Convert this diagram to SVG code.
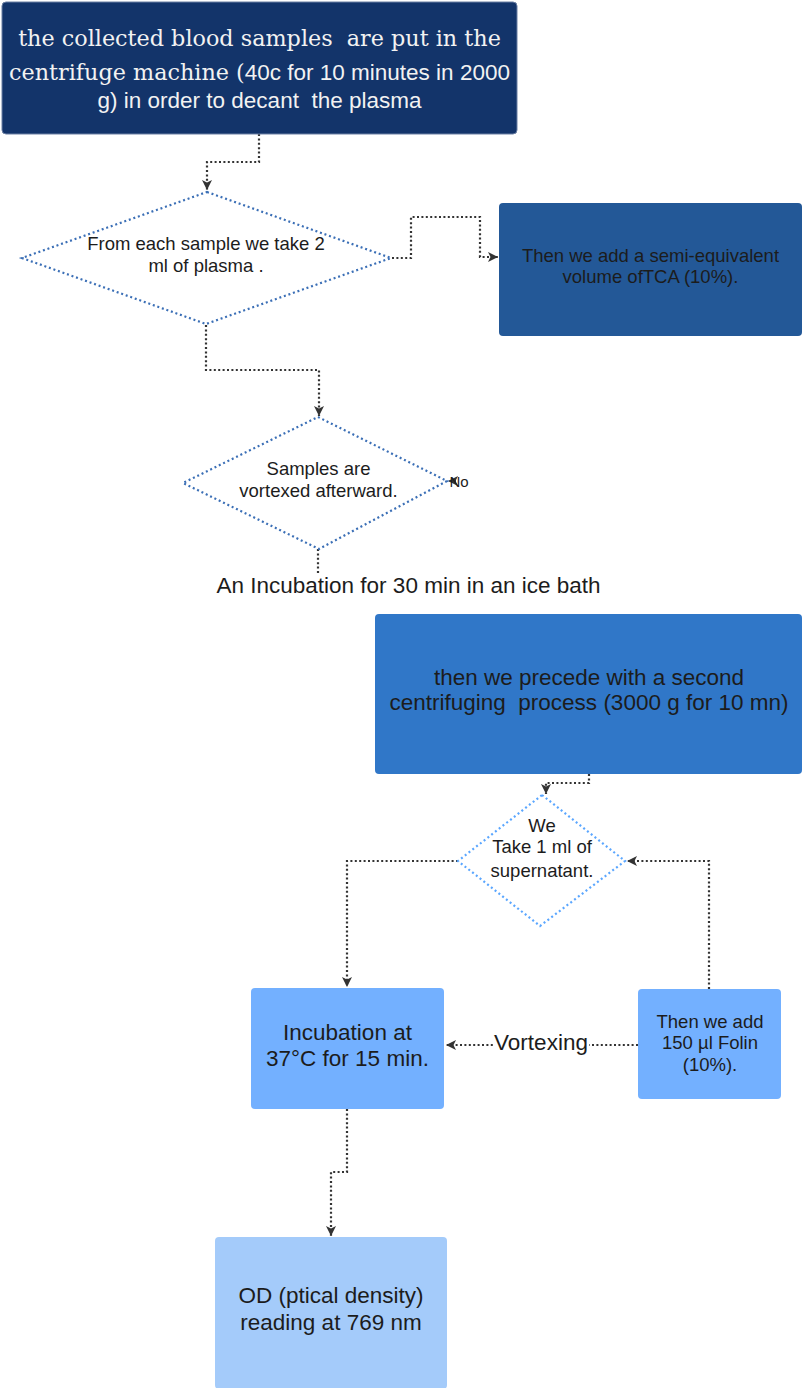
<svg xmlns="http://www.w3.org/2000/svg" width="803" height="1388" viewBox="0 0 803 1388">
<style>
text{white-space:pre}
.t{font-family:"Liberation Sans",Arial,sans-serif;fill:#1c1c1c;text-anchor:middle}
.s{font-size:18.5px}
.b{font-size:22.5px}
.w{fill:#f2f2f2}
.serif{font-family:"DejaVu Serif","Liberation Serif",serif}
.c{fill:none;stroke:#333;stroke-width:2.2;stroke-dasharray:2 2.4}
.d1{fill:#fff;stroke:#3b6fb6;stroke-width:2.2;stroke-dasharray:2 2.8}
.d2{fill:#fff;stroke:#5aa6ff;stroke-width:2.2;stroke-dasharray:2 2.8}
</style>
<defs>
<marker id="ah" markerUnits="userSpaceOnUse" markerWidth="12" markerHeight="12" refX="10" refY="6" orient="auto">
<path d="M0,1 L10,6 L0,11 L2.5,6 Z" fill="#333"/>
</marker>
</defs>
<rect width="803" height="1388" fill="#fff"/>

<g id="connectors">
<path class="c" d="M259,134 V162 H207 V190" marker-end="url(#ah)"/>
<path class="c" d="M392,258 H411 V217 H480 V257 H498" marker-end="url(#ah)"/>
<path class="c" d="M206,325 V370 H319 V416" marker-end="url(#ah)"/>
<path class="c" d="M318,549 V575"/>
<path class="c" d="M589,774 V783 H546 V794" marker-end="url(#ah)"/>
<path class="c" d="M458,861 H347 V987" marker-end="url(#ah)"/>
<path class="c" d="M709,989 V861 H627" marker-end="url(#ah)"/>
<path class="c" d="M638,1045 H446" marker-end="url(#ah)"/>
<path class="c" d="M347,1109 V1172 H331 V1236" marker-end="url(#ah)"/>
<path class="c" d="M456,481 H448" marker-end="url(#ah)" stroke-dasharray="none"/>
<rect x="494" y="1031" width="95" height="26" fill="#fff"/>
<text class="t b" x="541" y="1050">Vortexing</text>
<text class="t" x="459" y="487" font-size="15">No</text>
</g>

<g id="n1">
<rect x="2" y="2" width="515" height="132" rx="4" fill="#13346a" stroke="#6b7fa3" stroke-width="1"/>
<text class="t w serif" x="259.5" y="46" font-size="22.3">the collected blood samples  are put in the</text>
<text class="t w" x="259.5" y="80" font-size="22.3"><tspan class="serif">centrifuge machine (</tspan><tspan font-size="22.5">40c for 10 minutes in 2000</tspan></text>
<text class="t w b" x="259.5" y="108">g) in order to decant  the plasma</text>
</g>

<g id="n2">
<polygon class="d1" points="207,192 391,258 206,324 22,258"/>
<text class="t s" x="206" y="250">From each sample we take 2</text>
<text class="t s" x="206" y="272">ml of plasma .</text>
</g>

<g id="n3">
<rect x="499" y="203" width="303" height="133" rx="4" fill="#235897"/>
<text class="t s" x="650.5" y="262">Then we add a semi-equivalent</text>
<text class="t s" x="650.5" y="283">volume ofTCA (10%).</text>
</g>

<g id="n4">
<polygon class="d1" points="318,417 447,481 319,549 183,483"/>
<text class="t s" x="318.5" y="475">Samples are</text>
<text class="t s" x="318.5" y="497">vortexed afterward.</text>
</g>

<g id="n5">
<text class="t b" x="408.5" y="593">An Incubation for 30 min in an ice bath</text>
</g>

<g id="n6">
<rect x="375" y="614" width="427" height="160" rx="4" fill="#3077c8"/>
<text class="t b" x="589" y="685">then we precede with a second</text>
<text class="t b" x="589" y="710">centrifuging  process (3000 g for 10 mn)</text>
</g>

<g id="n7">
<polygon class="d2" points="542,795 625,861 540,926 458,861"/>
<text class="t s" x="542" y="832">We</text>
<text class="t s" x="542" y="853">Take 1 ml of</text>
<text class="t s" x="542" y="877">supernatant.</text>
</g>

<g id="n8">
<rect x="251" y="988" width="193" height="121" rx="4" fill="#73b0ff"/>
<text class="t b" x="347.5" y="1040">Incubation at</text>
<text class="t b" x="347.5" y="1066">37°C for 15 min.</text>
</g>

<g id="n9">
<rect x="638" y="989" width="143" height="110" rx="4" fill="#73b0ff"/>
<text class="t s" x="710" y="1028">Then we add</text>
<text class="t s" x="710" y="1049">150 µl Folin</text>
<text class="t s" x="710" y="1071">(10%).</text>
</g>

<g id="n10">
<rect x="215" y="1237" width="232" height="152" rx="4" fill="#a4cbfa"/>
<text class="t b" x="331" y="1303">OD (ptical density)</text>
<text class="t b" x="331" y="1330">reading at 769 nm</text>
</g>
</svg>
